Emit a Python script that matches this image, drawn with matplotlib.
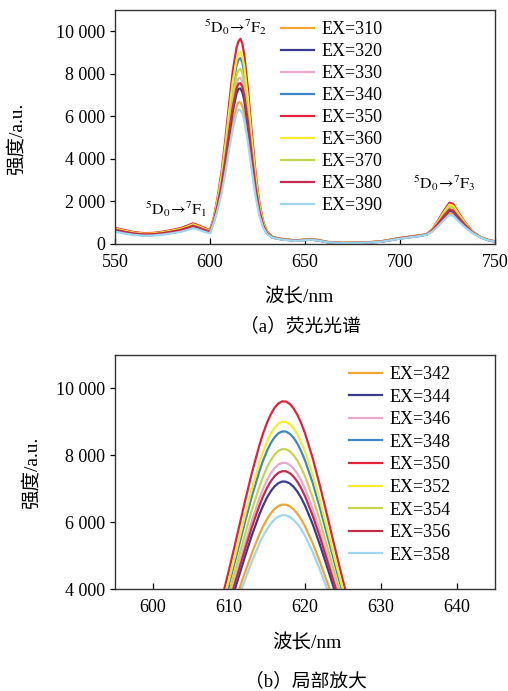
import matplotlib
matplotlib.use('Agg')
import matplotlib.pyplot as plt
from matplotlib.ticker import FuncFormatter

plt.rcParams['font.family'] = ['Liberation Serif', 'Noto Sans CJK SC']
plt.rcParams['mathtext.fontset'] = 'stix'

# %% data, panel (a): full spectra
wl = [550, 555, 560, 565, 570, 575, 580, 585, 588, 591, 594, 597,
      600, 602, 604, 606, 608, 610, 612, 614, 615, 616, 617, 618,
      620, 622, 624, 626, 628, 630, 633, 638, 645, 650, 653, 657,
      662, 670, 680, 690, 700, 705, 710, 714, 717, 720, 723, 726,
      728, 731, 734, 738, 742, 746, 750]

ex310 = [699, 598, 515, 469, 478, 534, 607, 699, 791, 892, 810, 699,
         607, 1027, 1674, 2457, 3485, 4636, 5715, 6475, 6665, 6651, 6498, 6158,
         5031, 3641, 2358, 1394, 798, 482, 325, 235, 175, 210, 240, 185,
         95, 55, 65, 125, 285, 345, 405, 440, 601, 868, 1169, 1430,
         1390, 1102, 835, 534, 340, 200, 125]
ex320 = [608, 520, 448, 408, 416, 464, 528, 608, 688, 776, 704, 608,
         528, 1076, 1789, 2653, 3787, 5056, 6246, 7084, 7294, 7309, 7140, 6765,
         5522, 3990, 2574, 1512, 855, 505, 295, 210, 155, 185, 210, 165,
         80, 40, 50, 105, 255, 315, 375, 445, 626, 927, 1266, 1560,
         1514, 1191, 889, 551, 330, 190, 110]
ex330 = [623, 533, 459, 418, 426, 476, 541, 623, 705, 795, 722, 623,
         541, 1114, 1878, 2804, 4020, 5380, 6656, 7554, 7779, 7817, 7636, 7233,
         5901, 4259, 2741, 1602, 898, 524, 300, 215, 160, 190, 215, 170,
         85, 45, 55, 110, 260, 320, 380, 449, 644, 968, 1334, 1650,
         1602, 1253, 928, 562, 335, 190, 115]
ex340 = [646, 553, 476, 434, 442, 493, 561, 646, 731, 825, 748, 646,
         561, 1182, 2040, 3078, 4442, 5968, 7399, 8406, 8659, 8738, 8535, 8084,
         6589, 4747, 3045, 1767, 977, 557, 300, 215, 160, 190, 215, 170,
         85, 45, 55, 110, 260, 320, 380, 455, 673, 1036, 1445, 1800,
         1745, 1354, 991, 582, 340, 195, 115]
ex350 = [760, 650, 560, 510, 520, 580, 660, 760, 860, 970, 880, 760,
         660, 1250, 2200, 3350, 4860, 6550, 8135, 9250, 9530, 9650, 9425, 8925,
         7270, 5230, 3345, 1930, 1055, 590, 320, 230, 170, 200, 230, 180,
         90, 50, 60, 120, 280, 340, 400, 460, 700, 1100, 1550, 1940,
         1880, 1450, 1050, 600, 350, 200, 120]
ex360 = [722, 618, 532, 485, 494, 551, 627, 722, 817, 922, 836, 722,
         627, 1205, 2093, 3168, 4580, 6160, 7642, 8685, 8946, 9039, 8829, 8361,
         6814, 4906, 3144, 1821, 1003, 568, 310, 225, 170, 200, 225, 180,
         90, 50, 60, 120, 275, 335, 395, 456, 683, 1059, 1483, 1851,
         1794, 1389, 1012, 588, 345, 200, 120]
ex370 = [684, 585, 504, 459, 468, 522, 594, 684, 774, 873, 792, 684,
         594, 1144, 1951, 2927, 4209, 5644, 6990, 7936, 8174, 8231, 8040, 7615,
         6210, 4478, 2878, 1676, 933, 539, 310, 225, 170, 200, 225, 175,
         90, 50, 60, 120, 275, 335, 395, 453, 663, 1014, 1409, 1751,
         1698, 1321, 970, 575, 340, 195, 115]
ex380 = [669, 572, 493, 449, 458, 510, 581, 669, 757, 854, 774, 669,
         581, 1095, 1834, 2728, 3903, 5218, 6451, 7319, 7536, 7563, 7388, 6999,
         5712, 4124, 2658, 1557, 876, 515, 305, 220, 165, 195, 220, 175,
         88, 48, 58, 115, 270, 330, 390, 448, 638, 954, 1311, 1620,
         1572, 1232, 915, 558, 335, 195, 115]
ex390 = [578, 494, 426, 388, 395, 441, 502, 578, 654, 737, 669, 578,
         502, 1000, 1611, 2350, 3321, 4408, 5427, 6144, 6324, 6294, 6150, 5828,
         4764, 3452, 2240, 1330, 768, 469, 290, 205, 150, 180, 205, 160,
         80, 40, 50, 105, 250, 310, 370, 437, 587, 836, 1116, 1360,
         1322, 1054, 805, 525, 330, 185, 110]

# %% data, panel (b): zoom on 5D0->7F2
zwl = [608, 609, 610, 611, 612, 613, 614, 614.5, 615, 615.5, 616, 616.5, 617,
       617.5, 618, 618.5, 619, 619.5, 620, 621, 622, 623, 624, 625, 626, 627]

ex342 = [1936, 2486, 3101, 3759, 4429, 5069, 5637, 5881, 6092, 6265, 6396, 6484, 6526,
         6522, 6474, 6383, 6252, 6082, 5877, 5379, 4791, 4156, 3508, 2883, 2307, 1797]
ex344 = [2141, 2749, 3429, 4157, 4897, 5604, 6232, 6502, 6736, 6927, 7072, 7169, 7216,
         7211, 7158, 7058, 6912, 6725, 6498, 5947, 5297, 4595, 3879, 3188, 2551, 1987]
ex346 = [2307, 2962, 3695, 4479, 5276, 6039, 6716, 7007, 7258, 7464, 7621, 7725, 7775,
         7771, 7713, 7605, 7449, 7246, 7002, 6408, 5708, 4951, 4179, 3435, 2749, 2141]
ex348 = [2585, 3320, 4141, 5020, 5914, 6768, 7527, 7853, 8135, 8366, 8541, 8659, 8715,
         8710, 8645, 8524, 8349, 8122, 7848, 7183, 6398, 5549, 4684, 3850, 3081, 2400]
ex350b = [2852, 3662, 4569, 5538, 6524, 7467, 8304, 8664, 8975, 9229, 9423, 9553, 9614,
          9608, 9537, 9404, 9210, 8960, 8658, 7924, 7058, 6122, 5168, 4247, 3399, 2647]
ex352 = [2671, 3430, 4279, 5187, 6111, 6994, 7777, 8114, 8405, 8644, 8825, 8947, 9005,
         8999, 8932, 8807, 8626, 8392, 8109, 7422, 6611, 5734, 4840, 3978, 3183, 2480]
ex354 = [2428, 3118, 3889, 4715, 5554, 6357, 7070, 7376, 7640, 7857, 8022, 8133, 8185,
         8180, 8120, 8006, 7841, 7628, 7371, 6746, 6009, 5212, 4400, 3616, 2894, 2254]
ex356 = [2233, 2867, 3576, 4335, 5107, 5845, 6500, 6782, 7025, 7224, 7376, 7477, 7525,
         7521, 7465, 7361, 7209, 7013, 6777, 6202, 5525, 4792, 4045, 3324, 2660, 2072]
ex358 = [1841, 2364, 2949, 3575, 4212, 4820, 5360, 5593, 5793, 5958, 6083, 6167, 6206,
         6202, 6157, 6070, 5946, 5784, 5589, 5115, 4556, 3952, 3336, 2742, 2194, 1709]

labels_a = ['EX=310', 'EX=320', 'EX=330', 'EX=340', 'EX=350',
            'EX=360', 'EX=370', 'EX=380', 'EX=390']
labels_b = ['EX=342', 'EX=344', 'EX=346', 'EX=348', 'EX=350',
            'EX=352', 'EX=354', 'EX=356', 'EX=358']
colors = ['#f2a531', '#3b3b8f', '#eaa8cc', '#3f87c6', '#e3213b',
          '#f4ee2a', '#c6d64c', '#c52b4c', '#9fd7f0']

series_a = [ex310, ex320, ex330, ex340, ex350, ex360, ex370, ex380, ex390]
series_b = [ex342, ex344, ex346, ex348, ex350b, ex352, ex354, ex356, ex358]

fmt = FuncFormatter(lambda v, p: '{:,}'.format(int(v)).replace(',', ' '))


def style_axes(ax):
    ax.tick_params(axis='x', direction='in', length=4.5, width=0.9,
                   labelsize=13, pad=7, top=False)
    ax.tick_params(axis='y', direction='out', length=3.5, width=0.9,
                   labelsize=13, right=False)
    ax.yaxis.set_major_formatter(fmt)
    for s in ax.spines.values():
        s.set_linewidth(1.0)
        s.set_color('#333333')


fig = plt.figure(figsize=(5.08, 6.91), dpi=100)

trans_lbl = r'$^{5}\mathrm{D}_{0}\!\rightarrow\!{}^{7}\mathrm{F}_{%d}$'

# (a)
ax1 = fig.add_axes([0.2264, 0.6469, 0.7480, 0.3386])
for y, c, lab in zip(series_a, colors, labels_a):
    ax1.plot(wl, y, color=c, lw=1.6, label=lab)
ax1.set_xlim(550, 750)
ax1.set_ylim(0, 11000)
ax1.set_xticks([550, 600, 650, 700, 750])
ax1.set_yticks([0, 2000, 4000, 6000, 8000, 10000])
style_axes(ax1)
ax1.text(613.4, 10200, trans_lbl % 2, ha='center', va='center', fontsize=11.5)
ax1.text(582.0, 1650, trans_lbl % 1, ha='center', va='center', fontsize=11.5)
ax1.text(723.5, 2850, trans_lbl % 3, ha='center', va='center', fontsize=11.5)
ax1.legend(loc='upper left', bbox_to_anchor=(281 / 508, 1 - 21 / 691),
           bbox_transform=fig.transFigure, frameon=False, fontsize=13,
           handlelength=1.8, handletextpad=0.45, labelspacing=0.28,
           borderpad=0, borderaxespad=0)

# (b)
ax2 = fig.add_axes([0.2264, 0.1476, 0.7480, 0.3386])
for y, c, lab in zip(series_b, colors, labels_b):
    ax2.plot(zwl, y, color=c, lw=1.6, label=lab)
ax2.set_xlim(595, 645)
ax2.set_ylim(4000, 11000)
ax2.set_xticks([600, 610, 620, 630, 640])
ax2.set_yticks([4000, 6000, 8000, 10000])
style_axes(ax2)
ax2.legend(loc='upper left', bbox_to_anchor=(349 / 508, 1 - 366 / 691),
           bbox_transform=fig.transFigure, frameon=False, fontsize=13,
           handlelength=1.8, handletextpad=0.45, labelspacing=0.31,
           borderpad=0, borderaxespad=0)

# labels and captions
fig.text(17 / 508, 1 - 139 / 691, '强度/a.u.', rotation=90, ha='center', va='center', fontsize=14)
fig.text(299 / 508, 1 - 297 / 691, '波长/nm', ha='center', va='center', fontsize=14)
fig.text(300 / 508, 1 - 326 / 691, '（a）荧光光谱', ha='center', va='center', fontsize=13.5)
fig.text(32 / 508, 1 - 473 / 691, '强度/a.u.', rotation=90, ha='center', va='center', fontsize=14)
fig.text(307 / 508, 1 - 643 / 691, '波长/nm', ha='center', va='center', fontsize=14)
fig.text(306 / 508, 1 - 681 / 691, '（b）局部放大', ha='center', va='center', fontsize=13.5)

plt.savefig('out.png', dpi=100)
